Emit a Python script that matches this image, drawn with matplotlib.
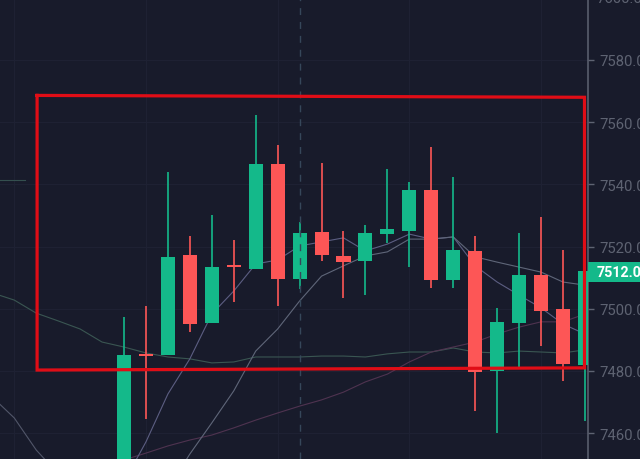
import numpy as np
import matplotlib
matplotlib.use("Agg")
import matplotlib.pyplot as plt
from matplotlib.patches import Rectangle
from matplotlib.transforms import blended_transform_factory

# candles
opens  = [7440.0,7485.5,7485.1,7517.3,7495.4,7514.2,7512.8,7546.6,7509.6,7524.7,7517.0,7515.4,7524.0,7525.0,7538.2,7509.3,7518.6,7480.0,7495.4,7510.9,7499.9,7481.9]
closes = [7485.1,7484.7,7516.7,7495.1,7513.4,7513.4,7546.6,7509.6,7524.4,7517.3,7515.0,7524.4,7525.7,7538.2,7509.3,7518.9,7479.7,7495.8,7510.9,7499.3,7482.3,7512.1]
highs  = [7497.4,7500.9,7544.0,7523.4,7530.2,7522.1,7562.3,7552.7,7527.9,7546.9,7525.0,7526.9,7544.9,7540.8,7552.0,7542.4,7523.4,7500.3,7524.4,7529.5,7518.9,7512.1]
lows   = [7430.0,7464.6,7485.1,7492.5,7495.4,7502.2,7512.8,7500.9,7506.4,7515.4,7503.5,7504.4,7521.2,7513.4,7506.7,7506.7,7467.1,7460.1,7481.3,7488.0,7476.8,7463.9]

# moving averages
ma_long_idx = list(range(-6, 22))
ma_long = [7505.1,7502.8,7498.6,7496.1,7493.5,7489.3,7487.7,7485.8,7484.5,7483.9,7482.6,7482.9,7484.5,7484.5,7484.5,7484.8,7484.8,7484.5,7485.5,7486.1,7486.1,7487.4,7486.1,7485.8,7486.4,7486.1,7485.8,7486.8]
ma_purple_idx = list(range(0, 22))
ma_purple = [7451.4,7453.6,7455.9,7457.8,7459.4,7461.7,7464.2,7466.5,7468.7,7470.7,7473.2,7476.5,7479.0,7482.9,7486.1,7487.7,7489.3,7491.9,7494.1,7495.8,7495.8,7498.3]
ma_fast_idx = list(range(0, 22))
ma_fast = [7444.3,7457.2,7472.6,7483.9,7498.3,7505.7,7514.4,7515.7,7520.2,7521.5,7522.8,7518.6,7520.8,7524.0,7522.4,7523.1,7513.8,7508.6,7504.4,7500.3,7495.1,7491.9]
ma_slow_idx = list(range(2, 22))
ma_slow = [7442.1,7453.3,7463.3,7473.6,7486.4,7493.5,7502.5,7510.5,7513.8,7517.0,7518.3,7522.4,7522.4,7523.1,7516.7,7515.0,7513.4,7511.8,7508.6,7507.6]
ma_left_idx = [-6, -5, -4, -3]
ma_left = [7471.6, 7464.9, 7454.6, 7446.9]
stub_idx = [-6, -4.5]
stub = [7541.4, 7541.4]

# annotation box
box_x = [-3.96, 20.98, 20.98, -3.96, -3.96]
box_y = [7568.6, 7568.0, 7481.0, 7480.3, 7568.6]

y_ticks = [7460, 7480, 7500, 7520, 7540, 7560, 7580]
grid_x = [-5, 1, 7, 13, 19]
cross_x = 8
last_low, last_high = 7508.6, 7515.0
last_mid = 7511.8
last_label = "7512.01"
top_label_price = 7600
top_label = "7600.00"

BG = "#181b2b"
GREEN = "#14b98a"
RED = "#fd5656"
FONT = "Roboto"

fig = plt.figure(figsize=(6.4, 4.6), dpi=100, facecolor=BG)
ax = fig.add_axes([0, 0, 588 / 640, 1], facecolor=BG)
ax.set_xlim(-5.65, 21.14)
ax.set_ylim(7451.7, 7599.6)

ax.set_xticks([])
ax.yaxis.tick_right()
ax.set_yticks(y_ticks)
ax.set_yticklabels([f"{v:.2f}" for v in y_ticks], family=FONT, fontsize=10.7, color="#5e6372")
ax.tick_params(axis="y", length=4, width=1, color="#5e6372", pad=4, direction="out")
for s in ("top", "left", "bottom"):
    ax.spines[s].set_visible(False)
ax.spines["right"].set_color("#5e6372")
ax.spines["right"].set_linewidth(1.1)

for v in y_ticks:
    ax.axhline(v, color="#1f2234", lw=0.7, zorder=1)
for v in grid_x:
    ax.axvline(v, color="#1f2234", lw=0.7, zorder=1)

ax.plot(stub_idx, stub, color="#34504f", lw=0.8, zorder=2)
ax.plot(ma_long_idx, ma_long, color="#3a5652", lw=0.8, zorder=2)
ax.plot(ma_purple_idx, ma_purple, color="#4f3350", lw=0.8, zorder=2)
ax.plot(ma_fast_idx, ma_fast, color="#5c5e82", lw=0.8, zorder=2)
ax.plot(ma_slow_idx, ma_slow, color="#5f6679", lw=0.8, zorder=2)
ax.plot(ma_left_idx, ma_left, color="#515669", lw=0.8, zorder=2)

ax.axvline(cross_x, color="#36475a", lw=1.0, ls=(0, (5, 5)), zorder=5)

idx = np.arange(len(opens))
cols = [GREEN if c >= o else RED for o, c in zip(opens, closes)]
ax.vlines(idx, lows, highs, colors=cols, lw=1.2, zorder=3)
ax.bar(idx, np.array(closes) - np.array(opens), bottom=opens, width=0.64, color=cols, lw=0, zorder=4)

ax.plot(box_x, box_y, color="#e00d16", lw=2.3, solid_joinstyle="miter", zorder=6)

trans = blended_transform_factory(ax.transAxes, ax.transData)
ax.add_patch(Rectangle((1, last_low), 0.09, last_high - last_low, transform=trans,
                       fc=GREEN, ec="none", clip_on=False, zorder=7))
ax.annotate(top_label, xy=(1, top_label_price), xycoords=("axes fraction", "data"),
            xytext=(6, 0), textcoords="offset points", va="center", ha="left",
            family=FONT, fontsize=10.7, color="#5e6372", annotation_clip=False)
ax.annotate(last_label, xy=(1, last_mid), xycoords=("axes fraction", "data"),
            xytext=(6, 0), textcoords="offset points", va="center", ha="left",
            family=FONT, fontsize=10.3, fontweight="bold", color="white",
            annotation_clip=False, zorder=8)

fig.savefig("out.png", dpi=100, facecolor=BG)
